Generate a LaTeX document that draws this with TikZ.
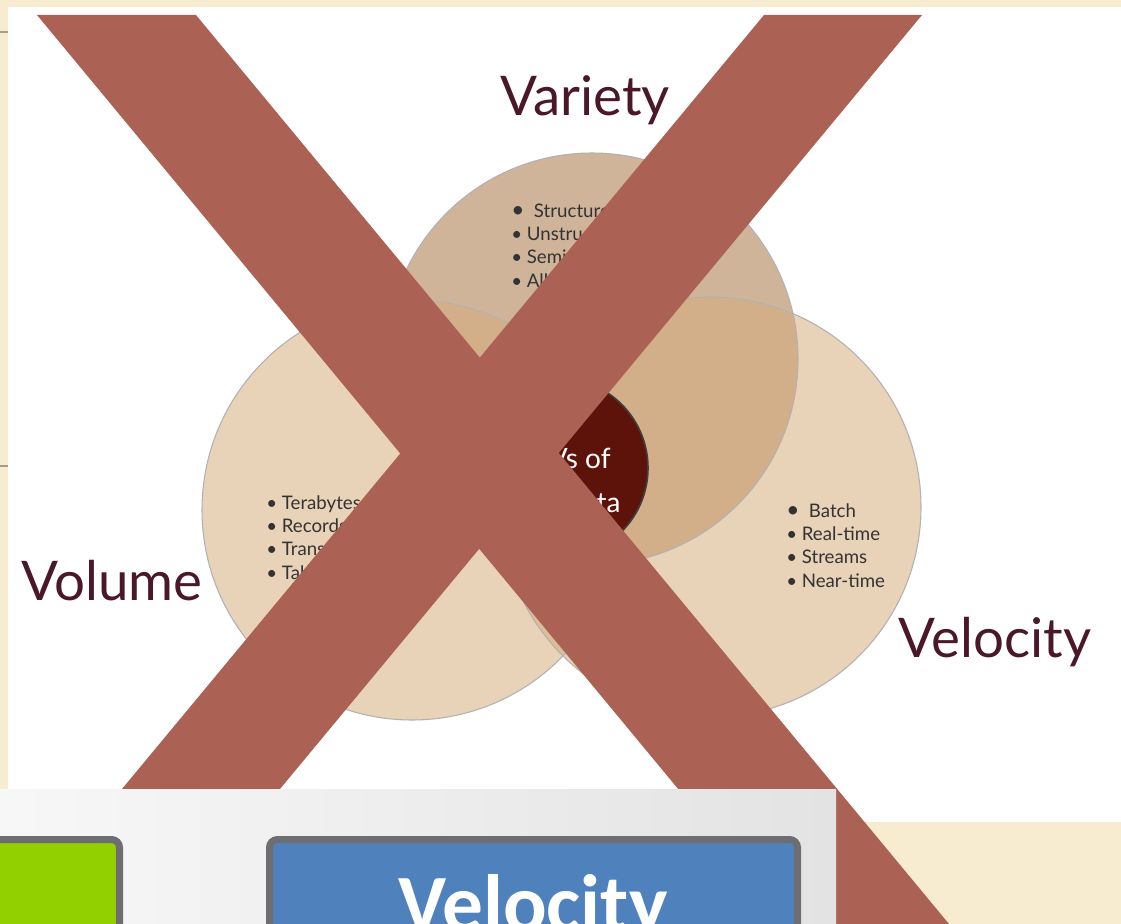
\documentclass[tikz,border=0pt]{standalone}
\usepackage{fontspec}
\setmainfont{Lato}
\newfontfamily\boxfont{Carlito}
\newcommand\firstdot{{\fontsize{17}{17}\selectfont•}}
\definecolor{parchment}{HTML}{F7ECCF}
\definecolor{tmplline}{HTML}{A39E8C}
\definecolor{vartan}{HTML}{D0B49A}
\definecolor{sidetan}{HTML}{E8D2B8}
\definecolor{midtan}{HTML}{D3AF89}
\definecolor{lowtan}{HTML}{DDBC97}
\definecolor{coretone}{HTML}{5E130A}
\definecolor{labelred}{HTML}{4A1828}
\definecolor{crossred}{HTML}{AB6254}
\definecolor{boxgray}{HTML}{6D6E71}
\definecolor{boxblue}{HTML}{4F81BD}
\definecolor{boxgreen}{HTML}{92D000}
\begin{document}
\begin{tikzpicture}[x=0.75pt,y=-0.75pt,
  vlabel/.style={anchor=base,text=labelred,font=\fontsize{41}{41}\selectfont},
  bulletlist/.style={anchor=base west,align=left,inner sep=0pt,text=black!80,font=\fontsize{14}{17.5}\selectfont},
  ring/.style={draw=black!30,line width=0.8pt},
  vbox/.style={draw=boxgray,line width=5.25pt,rounded corners=6pt}]

\useasboundingbox (0,0) rectangle (1121,924);
\clip (0,0) rectangle (1121,924);
\fill[parchment] (0,0) rectangle (1121,924);
\draw[tmplline,line width=1.5pt] (0,32) -- (10,32);
\draw[tmplline,line width=1.5pt] (0,466) -- (10,466);
\fill[white] (8,7) rectangle (1121,822);

% three circles
\coordinate (cvar) at (592,359);
\coordinate (cvol) at (412,510);
\coordinate (cvel) at (711,507);
\fill[vartan] (cvar) circle (206);
\fill[sidetan] (cvol) circle (210);
\fill[sidetan] (cvel) circle (210);
\begin{scope}
  \clip (cvol) circle (210);
  \fill[lowtan] (cvel) circle (210);
  \fill[midtan] (cvar) circle (206);
\end{scope}
\begin{scope}
  \clip (cvel) circle (210);
  \fill[midtan] (cvar) circle (206);
\end{scope}
\draw[ring] (cvar) circle (206);
\draw[ring] (cvol) circle (210);
\draw[ring] (cvel) circle (210);

% core
\fill[coretone,draw=black!75,line width=1.2pt] (558,468) circle (90);
\node[text=white,align=center,font=\fontsize{21}{33}\selectfont] (core) at (568,483) {3 Vs of\\Big Data};

\node[vlabel] (variety) at (585,115) {Variety};
\node[vlabel] (volume) at (112,600) {Volume};
\node[vlabel] (velocity) at (995,657) {Velocity};

% lists (base = last line)
\node[bulletlist] (varlist) at (511,287) {\firstdot\ \ Structured\\• Unstructured\\• Semi-structured\\• All the above};
\node[bulletlist] (vollist) at (266,579) {• Terabytes\\• Records\\• Transactions\\• Tables, files};
\node[bulletlist] (vellist) at (786,587) {\firstdot\ \ Batch\\• Real-time\\• Streams\\• Near-time};

% the cross
\fill[crossred] (37,15) -- (196,15) -- (949,924) -- (790,924) -- cycle;
\fill[crossred] (764,15) -- (922,15) -- (168,924) -- (10,924) -- cycle;

% lower slide
\shade[left color=white!97!black,right color=black!11] (0,789) rectangle (836,924);
\draw[vbox,fill=boxgreen] (-20,839.5) rectangle (119.5,960);
\draw[vbox,fill=boxblue] (269.5,839.5) rectangle (797.5,960);
\node[anchor=base,text=white,font=\boxfont\bfseries\fontsize{61}{61}\selectfont] (velbox) at (533,931) {Velocity};

\end{tikzpicture}
\end{document}
